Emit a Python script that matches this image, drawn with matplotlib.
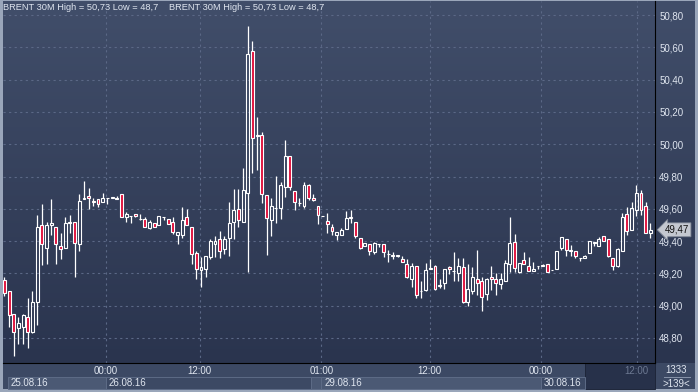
import numpy as np
import matplotlib.pyplot as plt
from matplotlib.colors import LinearSegmentedColormap
from matplotlib.transforms import blended_transform_factory
from matplotlib.patches import Rectangle

plt.rcParams['font.family'] = ['Liberation Sans', 'DejaVu Sans']

# 30M candles
opens = [49.16, 49.09, 48.95, 48.86, 48.87, 48.93, 48.84, 49.02, 49.50, 49.36,
         49.50, 49.49, 49.37, 49.36, 49.51, 49.52, 49.38, 49.66, 49.68, 49.65,
         49.66, 49.64, 49.665, 49.67, 49.66, 49.69, 49.55, 49.555, 49.57, 49.535,
         49.535, 49.48, 49.51, 49.50, 49.55, 49.535, 49.52, 49.44, 49.44, 49.55,
         49.49, 49.325, 49.22, 49.23, 49.30, 49.385, 49.41, 49.35, 49.42, 49.52,
         49.60, 49.52, 49.70, 50.575, 50.05, 50.055, 49.685, 49.53, 49.605, 49.605,
         49.735, 49.925, 49.71, 49.635, 49.62, 49.75, 49.67, 49.62, 49.555, 49.525,
         49.49, 49.44, 49.44, 49.475, 49.55, 49.52, 49.42, 49.37, 49.38, 49.33,
         49.38, 49.38, 49.32, 49.305, 49.31, 49.29, 49.26, 49.165, 49.245, 49.09,
         49.10, 49.23, 49.245, 49.12, 49.14, 49.24, 49.215, 49.20, 49.24, 49.025,
         49.09, 49.165, 49.15, 49.07, 49.18, 49.165, 49.135, 49.15, 49.26, 49.395,
         49.21, 49.28, 49.245, 49.215, 49.245, 49.245, 49.26, 49.22, 49.225, 49.36,
         49.41, 49.34, 49.34, 49.295, 49.295, 49.325, 49.39, 49.37, 49.43, 49.41,
         49.295, 49.245, 49.34, 49.57, 49.47, 49.595, 49.70, 49.62, 49.45]
highs = [49.18, 49.09, 48.95, 48.93, 48.95, 49.05, 49.09, 49.56, 49.63, 49.52,
         49.66, 49.49, 49.45, 49.55, 49.56, 49.52, 49.69, 49.77, 49.73, 49.67,
         49.66, 49.70, 49.665, 49.67, 49.68, 49.69, 49.58, 49.555, 49.57, 49.57,
         49.55, 49.53, 49.51, 49.555, 49.55, 49.535, 49.55, 49.455, 49.61, 49.60,
         49.49, 49.34, 49.30, 49.31, 49.41, 49.43, 49.465, 49.43, 49.64, 49.72,
         49.72, 49.85, 50.73, 50.64, 50.17, 50.075, 49.685, 49.665, 49.805, 49.765,
         50.025, 49.925, 49.71, 49.67, 49.765, 49.755, 49.69, 49.62, 49.555, 49.575,
         49.505, 49.455, 49.48, 49.585, 49.59, 49.52, 49.42, 49.39, 49.38, 49.395,
         49.38, 49.38, 49.345, 49.33, 49.315, 49.305, 49.29, 49.265, 49.245, 49.15,
         49.265, 49.29, 49.255, 49.165, 49.23, 49.245, 49.33, 49.295, 49.295, 49.26,
         49.24, 49.345, 49.18, 49.17, 49.245, 49.20, 49.20, 49.28, 49.55, 49.445,
         49.265, 49.33, 49.30, 49.27, 49.245, 49.26, 49.26, 49.22, 49.34, 49.425,
         49.41, 49.375, 49.34, 49.295, 49.315, 49.40, 49.39, 49.425, 49.43, 49.41,
         49.295, 49.36, 49.575, 49.61, 49.64, 49.75, 49.715, 49.64, 49.51]
lows = [49.06, 48.87, 48.69, 48.76, 48.76, 48.74, 48.83, 48.88, 49.25, 49.26,
        49.44, 49.26, 49.29, 49.36, 49.45, 49.18, 49.34, 49.66, 49.60, 49.62,
        49.61, 49.64, 49.63, 49.67, 49.66, 49.55, 49.52, 49.51, 49.55, 49.53,
        49.485, 49.475, 49.49, 49.50, 49.53, 49.505, 49.445, 49.385, 49.42, 49.50,
        49.26, 49.165, 49.115, 49.18, 49.29, 49.30, 49.295, 49.32, 49.31, 49.41,
        49.49, 49.52, 49.21, 49.82, 49.84, 49.635, 49.315, 49.43, 49.51, 49.535,
        49.675, 49.715, 49.59, 49.62, 49.605, 49.655, 49.65, 49.505, 49.555, 49.45,
        49.435, 49.405, 49.44, 49.475, 49.51, 49.42, 49.35, 49.37, 49.315, 49.32,
        49.365, 49.30, 49.27, 49.29, 49.30, 49.27, 49.17, 49.115, 49.05, 49.05,
        49.09, 49.23, 49.10, 49.11, 49.105, 49.195, 49.15, 49.15, 49.015, 49.00,
        49.075, 49.065, 48.97, 49.035, 49.095, 49.065, 49.105, 49.15, 49.21, 49.21,
        49.20, 49.26, 49.215, 49.215, 49.23, 49.245, 49.21, 49.22, 49.225, 49.345,
        49.305, 49.31, 49.295, 49.275, 49.295, 49.325, 49.37, 49.37, 49.40, 49.30,
        49.22, 49.24, 49.34, 49.44, 49.47, 49.555, 49.56, 49.45, 49.42]
closes = [49.08, 48.94, 48.84, 48.89, 48.94, 48.84, 49.02, 49.49, 49.38, 49.50,
          49.51, 49.38, 49.35, 49.51, 49.52, 49.39, 49.65, 49.67, 49.67, 49.64,
          49.63, 49.67, 49.665, 49.67, 49.67, 49.55, 49.57, 49.555, 49.555, 49.535,
          49.49, 49.52, 49.49, 49.555, 49.55, 49.505, 49.455, 49.455, 49.53, 49.50,
          49.32, 49.23, 49.24, 49.31, 49.40, 49.40, 49.34, 49.41, 49.51, 49.59,
          49.53, 49.715, 50.56, 50.04, 50.06, 49.69, 49.54, 49.62, 49.605, 49.75,
          49.93, 49.735, 49.64, 49.635, 49.75, 49.665, 49.655, 49.56, 49.555, 49.505,
          49.46, 49.455, 49.47, 49.54, 49.54, 49.43, 49.36, 49.39, 49.34, 49.39,
          49.38, 49.33, 49.32, 49.315, 49.31, 49.27, 49.18, 49.245, 49.065, 49.09,
          49.22, 49.23, 49.105, 49.13, 49.23, 49.23, 49.215, 49.245, 49.02, 49.105,
          49.18, 49.14, 49.055, 49.165, 49.165, 49.14, 49.165, 49.265, 49.39, 49.235,
          49.265, 49.26, 49.215, 49.23, 49.245, 49.255, 49.21, 49.22, 49.34, 49.425,
          49.345, 49.34, 49.31, 49.295, 49.31, 49.40, 49.39, 49.41, 49.40, 49.31,
          49.245, 49.35, 49.55, 49.46, 49.605, 49.70, 49.595, 49.45, 49.47]

price_ticks = [48.8, 49.0, 49.2, 49.4, 49.6, 49.8, 50.0, 50.2, 50.4, 50.6, 50.8]
time_pos = [21.7, 41.7, 67.7, 90.9, 114.6, 135.1]
time_labels = ['00:00', '12:00', '01:00', '12:00', '00:00', '12:00']
date_labels = ['25.08.16', '26.08.16', '', '29.08.16', '30.08.16']
date_edges = [0.8, 21.7, 65.6, 67.7, 114.6, 124.0]
title = 'BRENT 30M High = 50,73 Low = 48,7'

W, H = 698, 392
RED = '#e0103c'
TXT = '#dfe5ef'

fig = plt.figure(figsize=(W / 100, H / 100), dpi=100, facecolor='#9aa6ba')

# gradient behind plot and right price panel
grad = LinearSegmentedColormap.from_list('bg', ['#2a344e', '#414e6a'])
axbg = fig.add_axes([3 / W, (H - 363) / H, 692 / W, 362 / H], zorder=0)
axbg.imshow(np.linspace(0, 1, 256).reshape(-1, 1), cmap=grad, aspect='auto',
            origin='lower', extent=[0, 1, 0, 1])
axbg.axis('off')

# time axis strip
axx = fig.add_axes([3 / W, 3 / H, 692 / W, 26 / H], zorder=1, facecolor='#3c4964')
axx.set_xticks([])
axx.set_yticks([])
for s in axx.spines.values():
    s.set_visible(False)

ax = fig.add_axes([3 / W, (H - 363) / H, 652 / W, 362 / H], zorder=3, facecolor='none')

n = len(opens)
x = np.arange(n)
o = np.array(opens)
c = np.array(closes)
hi = np.array(highs)
lo = np.array(lows)
top = np.maximum(o, c)
bot = np.minimum(o, c)
up = c >= o

ax.vlines(x, top, hi, color='white', lw=0.9, zorder=2)
ax.vlines(x, lo, bot, color='white', lw=0.9, zorder=2)
body = np.maximum(top - bot, 0.002)
ax.bar(x[up], body[up], bottom=bot[up], width=0.62, facecolor='none',
       edgecolor='white', lw=0.8, zorder=3)
ax.bar(x[~up], body[~up], bottom=bot[~up], width=0.62, facecolor=RED,
       edgecolor='white', lw=0.8, zorder=3)

ax.set_xlim(-0.3, 139.0)
ax.set_ylim(48.645, 50.887)

ax.set_yticks(price_ticks)
ax.set_yticklabels([f'{v:.2f}'.replace('.', ',') for v in price_ticks])
ax.yaxis.tick_right()
ax.tick_params(axis='y', length=0, pad=3, labelsize=7, labelcolor=TXT)
ax.set_xticks(time_pos)
ax.set_xticklabels(time_labels)
ax.tick_params(axis='x', length=0, pad=2.5, labelsize=7, labelcolor=TXT)
ax.get_xticklabels()[-1].set_color('#6c7891')
ax.grid(True, color='#5b6886', lw=0.8, linestyle=(0, (2, 3)))
ax.set_axisbelow(True)
for side in ['top', 'left']:
    ax.spines[side].set_visible(False)
ax.spines['bottom'].set_color('black')
ax.spines['right'].set_color('black')

# date boxes under the time labels
tb = blended_transform_factory(ax.transData, fig.transFigure)
fills = ['#4b5974', '#3c4964', '#4b5974', '#4b5974', '#3c4964']
for i, lab in enumerate(date_labels):
    ax.add_patch(Rectangle((date_edges[i], 3 / H), date_edges[i + 1] - date_edges[i], 12 / H,
                           transform=tb, facecolor=fills[i], edgecolor='#5d6b86',
                           lw=0.7, clip_on=False, zorder=1))
    ax.text(date_edges[i] + 0.6, 9 / H, lab, transform=tb, fontsize=7, color=TXT,
            ha='left', va='center', clip_on=False)
ax.add_patch(Rectangle((date_edges[-1], 3 / H), 139.0 - date_edges[-1], 26 / H,
                       transform=tb, facecolor='#27314a', edgecolor='#1e263a',
                       lw=0.7, clip_on=False, zorder=0))

# bars counter in the corner
fig.text(676 / W, 1 - 370 / H, '1333', fontsize=7, color=TXT, ha='center', va='center')
fig.add_artist(plt.Line2D([664 / W, 690 / W], [1 - 377 / H, 1 - 377 / H], color='#8894aa', lw=0.7))
fig.text(676 / W, 1 - 384 / H, '>139<', fontsize=7, color=TXT, ha='center', va='center')

# header
fig.text(3 / W, 1 - 8 / H, title, fontsize=6.7, color=TXT, ha='left', va='center')
fig.text(169 / W, 1 - 8 / H, title, fontsize=6.7, color=TXT, ha='left', va='center')

# last price tag
pt = blended_transform_factory(ax.transAxes, ax.transData)
ax.annotate(f'{closes[-1]:.2f}'.replace('.', ','), xy=(1.0, closes[-1]), xycoords=pt,
            xytext=(7, 0), textcoords='offset points', fontsize=7, color='#111111',
            ha='left', va='center', annotation_clip=False,
            bbox=dict(boxstyle='larrow,pad=0.2', fc='#c4c8d0', ec='#7d8594', lw=0.6))

fig.savefig('out.png', dpi=100, facecolor=fig.get_facecolor())
